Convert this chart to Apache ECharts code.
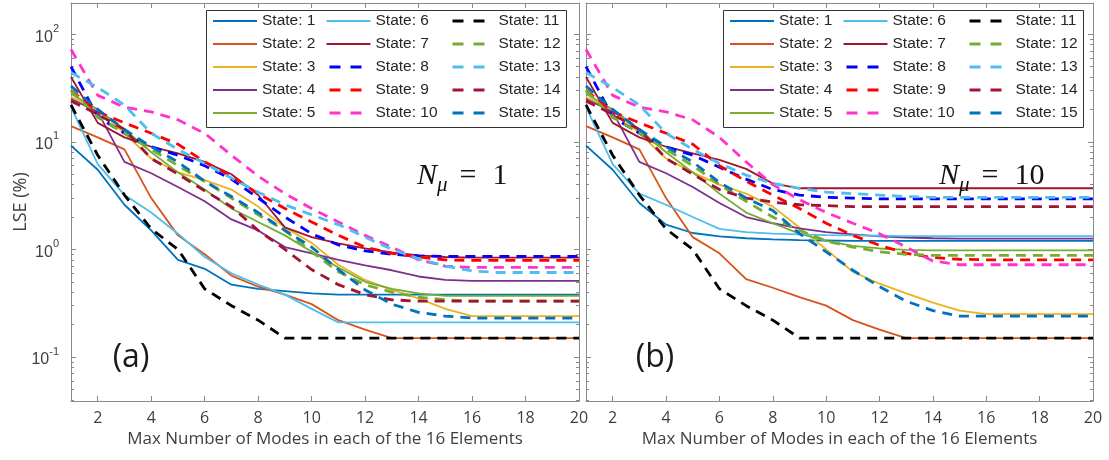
<!DOCTYPE html>
<html>
<head>
<meta charset="utf-8">
<script src="https://cdn.jsdelivr.net/npm/echarts@6/dist/echarts.min.js"></script>
<style>
  html, body { margin: 0; padding: 0; background: #ffffff; }
  #chart { width: 1109px; height: 460px; }
</style>
</head>
<body>
<div id="chart"></div>
<script>
// Number of modes kept per element (x axis)
const modes = [1, 2, 3, 4, 5, 6, 7, 8, 9, 10, 11, 12, 13, 14, 15, 16, 17, 18, 19, 20];
const xTicks = [2, 4, 6, 8, 10, 12, 14, 16, 18, 20];
const yTicks = [0.1, 1, 10, 100];

const stateNames = ['State: 1', 'State: 2', 'State: 3', 'State: 4', 'State: 5',
  'State: 6', 'State: 7', 'State: 8', 'State: 9', 'State: 10',
  'State: 11', 'State: 12', 'State: 13', 'State: 14', 'State: 15'];
const stateColors = ['#0072BD', '#D95319', '#EDB120', '#7E2F8E', '#77AC30',
  '#4DBEEE', '#A2142F', '#0000FF', '#FF0000', '#FF33CC',
  '#000000', '#77AC30', '#4DBEEE', '#A2142F', '#0072BD'];
const stateDashed = [false, false, false, false, false, false, false,
  true, true, true, true, true, true, true, true];

const panelLetters = ['(a)', '(b)'];
const panelNmu = ['1', '10'];

// LSE (%) per state, N_mu = 1
const lseNmu1 = [
  [9.2, 5.5, 2.6, 1.5, 0.8, 0.66, 0.47, 0.43, 0.41, 0.39, 0.38, 0.38, 0.38, 0.38, 0.38, 0.38, 0.38, 0.38, 0.38, 0.38],
  [14, 11, 8.5, 3.0, 1.35, 0.9, 0.57, 0.45, 0.38, 0.31, 0.22, 0.18, 0.15, 0.15, 0.15, 0.15, 0.15, 0.15, 0.15, 0.15],
  [26, 20, 12, 7.0, 5.2, 4.4, 3.6, 2.5, 1.6, 1.15, 0.72, 0.52, 0.42, 0.35, 0.28, 0.24, 0.24, 0.24, 0.24, 0.24],
  [25, 19, 6.5, 5.1, 3.8, 2.8, 1.9, 1.5, 1.05, 0.92, 0.8, 0.71, 0.64, 0.56, 0.52, 0.51, 0.51, 0.51, 0.51, 0.51],
  [28, 20, 13, 8.0, 5.2, 3.6, 2.4, 1.8, 1.35, 0.95, 0.68, 0.5, 0.43, 0.39, 0.37, 0.37, 0.37, 0.37, 0.37, 0.37],
  [21, 6.2, 3.2, 2.2, 1.4, 0.85, 0.6, 0.47, 0.38, 0.28, 0.21, 0.21, 0.21, 0.21, 0.21, 0.21, 0.21, 0.21, 0.21, 0.21],
  [40, 15, 11, 9.0, 7.8, 6.5, 5.0, 3.2, 1.6, 1.3, 1.14, 1.02, 0.94, 0.88, 0.85, 0.84, 0.84, 0.84, 0.84, 0.84],
  [50, 17, 12, 9.0, 7.5, 6.0, 4.5, 3.0, 2.0, 1.4, 1.1, 0.97, 0.9, 0.87, 0.86, 0.86, 0.86, 0.86, 0.86, 0.86],
  [30, 19, 15, 12, 9.5, 6.5, 4.8, 3.3, 2.4, 1.8, 1.35, 1.05, 0.92, 0.85, 0.8, 0.79, 0.79, 0.79, 0.79, 0.79],
  [72, 27, 21, 19, 16, 12, 7.5, 4.8, 3.3, 2.4, 1.8, 1.35, 1.05, 0.8, 0.7, 0.68, 0.68, 0.68, 0.68, 0.68],
  [22, 7.5, 3.2, 1.55, 1.0, 0.43, 0.3, 0.22, 0.15, 0.15, 0.15, 0.15, 0.15, 0.15, 0.15, 0.15, 0.15, 0.15, 0.15, 0.15],
  [30, 17, 12, 8.5, 6.0, 4.3, 3.0, 2.1, 1.5, 0.95, 0.62, 0.47, 0.4, 0.36, 0.34, 0.33, 0.33, 0.33, 0.33, 0.33],
  [44, 32, 22, 12, 8.5, 6.3, 4.6, 3.4, 2.6, 2.1, 1.7, 1.3, 1.0, 0.82, 0.7, 0.63, 0.61, 0.61, 0.61, 0.61],
  [24, 18, 13, 7.0, 5.0, 3.5, 2.5, 1.5, 1.0, 0.65, 0.47, 0.38, 0.34, 0.33, 0.33, 0.33, 0.33, 0.33, 0.33, 0.33],
  [33, 20, 13, 9.0, 6.5, 4.3, 3.1, 2.2, 1.5, 1.05, 0.65, 0.42, 0.31, 0.26, 0.24, 0.23, 0.23, 0.23, 0.23, 0.23]
];

// LSE (%) per state, N_mu = 10
const lseNmu10 = [
  [9.2, 5.5, 2.7, 1.7, 1.42, 1.32, 1.27, 1.24, 1.22, 1.21, 1.2, 1.2, 1.2, 1.2, 1.2, 1.2, 1.2, 1.2, 1.2, 1.2],
  [14, 11, 8.5, 3.0, 1.3, 0.92, 0.53, 0.44, 0.36, 0.3, 0.22, 0.18, 0.15, 0.15, 0.15, 0.15, 0.15, 0.15, 0.15, 0.15],
  [26, 20, 12, 7.0, 5.2, 4.0, 3.3, 2.5, 1.6, 1.0, 0.62, 0.48, 0.39, 0.32, 0.27, 0.25, 0.25, 0.25, 0.25, 0.25],
  [25, 19, 6.5, 5.1, 3.8, 2.7, 2.0, 1.75, 1.57, 1.45, 1.38, 1.32, 1.29, 1.27, 1.26, 1.26, 1.26, 1.26, 1.26, 1.26],
  [28, 20, 13, 8.0, 5.2, 3.3, 2.2, 1.75, 1.4, 1.2, 1.08, 1.02, 0.99, 0.98, 0.98, 0.98, 0.98, 0.98, 0.98, 0.98],
  [21, 6.2, 3.3, 2.6, 2.0, 1.55, 1.45, 1.4, 1.38, 1.36, 1.35, 1.34, 1.33, 1.33, 1.33, 1.33, 1.33, 1.33, 1.33, 1.33],
  [40, 15, 11, 9.0, 7.8, 6.8, 5.6, 4.1, 3.7, 3.7, 3.7, 3.7, 3.7, 3.7, 3.7, 3.7, 3.7, 3.7, 3.7, 3.7],
  [50, 17, 12, 9.0, 7.5, 5.8, 4.5, 3.6, 3.2, 3.05, 3.0, 2.95, 2.95, 2.95, 2.95, 2.95, 2.95, 2.95, 2.95, 2.95],
  [30, 19, 15, 12, 9.5, 6.0, 4.3, 3.2, 2.4, 1.75, 1.35, 1.09, 0.92, 0.84, 0.81, 0.8, 0.8, 0.8, 0.8, 0.8],
  [72, 27, 21, 19, 16, 11, 6.5, 4.0, 2.9, 2.2, 1.75, 1.4, 1.05, 0.78, 0.72, 0.72, 0.72, 0.72, 0.72, 0.72],
  [22, 7.5, 3.2, 1.55, 1.0, 0.43, 0.3, 0.22, 0.15, 0.15, 0.15, 0.15, 0.15, 0.15, 0.15, 0.15, 0.15, 0.15, 0.15, 0.15],
  [30, 17, 12, 8.5, 6.0, 4.0, 2.8, 2.0, 1.5, 1.2, 1.05, 0.95, 0.9, 0.88, 0.88, 0.88, 0.88, 0.88, 0.88, 0.88],
  [44, 32, 22, 12, 8.5, 6.3, 4.9, 4.1, 3.7, 3.4, 3.3, 3.2, 3.1, 3.05, 3.05, 3.05, 3.05, 3.05, 3.05, 3.05],
  [24, 18, 13, 7.0, 5.0, 3.6, 3.0, 2.75, 2.6, 2.55, 2.5, 2.5, 2.5, 2.5, 2.5, 2.5, 2.5, 2.5, 2.5, 2.5],
  [33, 20, 13, 9.0, 6.5, 4.2, 3.0, 2.3, 1.4, 0.95, 0.64, 0.45, 0.33, 0.27, 0.24, 0.24, 0.24, 0.24, 0.24, 0.24]
];

const panels = [lseNmu1, lseNmu10];

// Log-scale minor tick positions (2..9 x 10^k) inside the y range
const yMin = 0.039, yMax = 195;
const yMinor = [];
[0.01, 0.1, 1, 10].forEach(function (d) {
  for (let k = 2; k <= 9; k++) {
    const v = +(k * d).toPrecision(3);
    if (v > yMin && v < yMax) yMinor.push(v);
  }
});

const axisGrey = '#8a8a8a';
const textGrey = '#404040';
const sansFont = '"Open Sans", "Noto Sans", sans-serif';
const arialFont = '"Liberation Sans", Arial, sans-serif';
const serifFont = '"Liberation Serif", "DejaVu Serif", serif';

const grids = [
  { left: 71, top: 3, width: 508, height: 398 },
  { left: 586, top: 3, width: 507, height: 398 }
];

const xAxis = [];
const yAxis = [];
grids.forEach(function (g, gi) {
  xAxis.push({
    gridIndex: gi, type: 'value', min: 1, max: 20, position: 'bottom',
    axisLine: { show: true, onZero: false, lineStyle: { color: axisGrey, width: 1 } },
    axisTick: { show: true, inside: true, length: 5, customValues: xTicks, lineStyle: { color: axisGrey } },
    axisLabel: { customValues: xTicks, fontSize: 16, fontFamily: sansFont, color: textGrey, margin: 9 },
    splitLine: { show: false },
    name: 'Max Number of Modes in each of the 16 Elements',
    nameLocation: 'middle', nameGap: 30,
    nameTextStyle: { fontSize: 17, fontFamily: sansFont, color: textGrey }
  });
  xAxis.push({
    gridIndex: gi, type: 'value', min: 1, max: 20, position: 'top',
    axisLine: { show: true, onZero: false, lineStyle: { color: axisGrey, width: 1 } },
    axisTick: { show: true, inside: true, length: 5, customValues: xTicks, lineStyle: { color: axisGrey } },
    axisLabel: { show: false }, splitLine: { show: false }
  });
  ['left', 'right'].forEach(function (side) {
    const showLabels = gi === 0 && side === 'left';
    yAxis.push({
      gridIndex: gi, type: 'log', logBase: 10, min: yMin, max: yMax, position: side,
      axisLine: { show: true, lineStyle: { color: axisGrey, width: 1 } },
      axisTick: { show: true, inside: true, length: 5, customValues: yTicks, lineStyle: { color: axisGrey } },
      axisLabel: {
        show: showLabels, customValues: yTicks, margin: 12,
        formatter: function (v) {
          return '{b|10}{s|' + Math.round(Math.log10(v)) + '}';
        },
        rich: {
          b: { fontSize: 16, fontFamily: arialFont, color: textGrey, lineHeight: 22, verticalAlign: 'bottom' },
          s: { fontSize: 11, fontFamily: arialFont, color: textGrey, lineHeight: 22, verticalAlign: 'top' }
        }
      },
      splitLine: { show: false }
    });
    yAxis.push({
      gridIndex: gi, type: 'log', logBase: 10, min: yMin, max: yMax, position: side,
      axisLine: { show: false },
      axisTick: { show: true, inside: true, length: 3, customValues: yMinor, lineStyle: { color: axisGrey } },
      axisLabel: { show: false }, splitLine: { show: false }
    });
  });
});

const series = [];
panels.forEach(function (rows, gi) {
  rows.forEach(function (vals, i) {
    series.push({
      type: 'line', name: stateNames[i],
      xAxisIndex: gi * 2, yAxisIndex: gi * 4,
      data: modes.map(function (m, k) { return [m, vals[k]]; }),
      symbol: 'none', showSymbol: false, smooth: false,
      silent: true, animation: false,
      lineStyle: {
        color: stateColors[i],
        width: stateDashed[i] ? 2.8 : 1.8,
        type: stateDashed[i] ? [10, 7] : 'solid'
      },
      itemStyle: { color: stateColors[i] },
      emphasis: { disabled: true }
    });
  });
});

// Legend: one vertical legend per column (5 states each), three columns per panel
const legendBoxLeft = [206, 723];
const legendBoxTop = 10;
const legendBoxWidth = 360;
const legendBoxHeight = 117;
const legendColOffset = [6, 119, 242];
const legend = [];
legendBoxLeft.forEach(function (boxLeft) {
  legendColOffset.forEach(function (off, c) {
    legend.push({
      left: boxLeft + off, top: legendBoxTop + 3, orient: 'vertical',
      padding: 0, itemWidth: 44, itemHeight: 14, itemGap: 7, itemTextGap: 5,
      itemStyle: { opacity: 0 },
      textStyle: { fontSize: 15.5, fontFamily: arialFont, color: '#262626' },
      selectedMode: false,
      data: stateNames.slice(c * 5, c * 5 + 5).map(function (name, j) {
        const i = c * 5 + j;
        return {
          name: name,
          lineStyle: stateDashed[i] ? { type: [11, 10], dashOffset: -3, width: 3 } : { width: 2 }
        };
      })
    });
  });
});

const graphic = [];
legendBoxLeft.forEach(function (boxLeft) {
  graphic.push({
    type: 'rect', left: boxLeft, top: legendBoxTop, z: -1,
    shape: { width: legendBoxWidth, height: legendBoxHeight },
    style: { fill: '#ffffff', stroke: '#333333', lineWidth: 1 }
  });
});
graphic.push({
  type: 'text', x: 21, y: 202, rotation: Math.PI / 2, z: 100,
  style: { text: 'LSE (%)', font: '18px ' + sansFont, fill: textGrey, align: 'center', verticalAlign: 'middle' }
});
[131, 655].forEach(function (cx, gi) {
  graphic.push({
    type: 'text', x: cx, y: 358, z: 100,
    style: { text: panelLetters[gi], font: '32px ' + sansFont, fill: '#1a1a1a', align: 'center', verticalAlign: 'middle' }
  });
});
[417, 939].forEach(function (x, gi) {
  graphic.push({
    type: 'text', left: x, top: 161, z: 100,
    style: {
      text: '{n|N}{m|μ}{e|=}{v|' + panelNmu[gi] + '}',
      rich: {
        n: { fontSize: 30, fontStyle: 'italic', fontFamily: serifFont, fill: '#111', lineHeight: 40, verticalAlign: 'middle' },
        m: { fontSize: 21, fontStyle: 'italic', fontFamily: serifFont, fill: '#111', lineHeight: 40, verticalAlign: 'bottom' },
        e: { fontSize: 30, fontFamily: serifFont, fill: '#111', lineHeight: 40, verticalAlign: 'middle', padding: [0, 16, 0, 12] },
        v: { fontSize: 30, fontFamily: serifFont, fill: '#111', lineHeight: 40, verticalAlign: 'middle' }
      }
    }
  });
});

const chart = echarts.init(document.getElementById('chart'), null, { renderer: 'canvas' });
chart.setOption({
  animation: false,
  backgroundColor: '#ffffff',
  grid: grids,
  xAxis: xAxis,
  yAxis: yAxis,
  legend: legend,
  series: series,
  graphic: graphic
});
</script>
</body>
</html>
